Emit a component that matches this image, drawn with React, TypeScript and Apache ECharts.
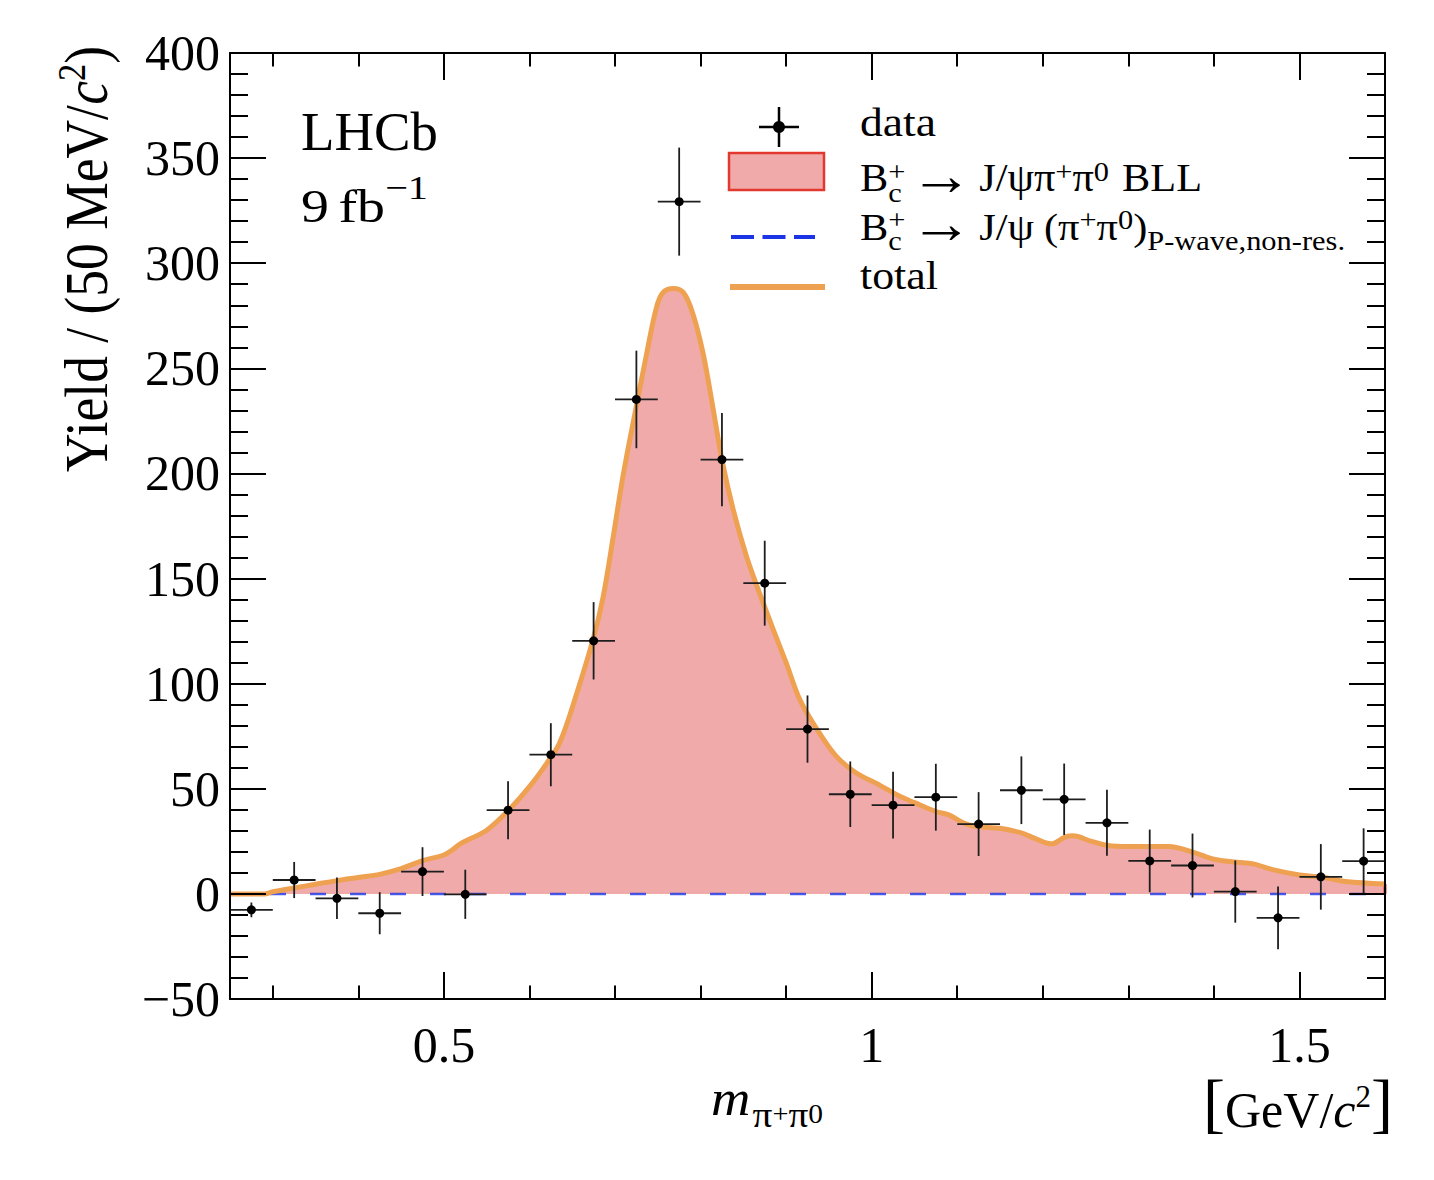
import React, { useEffect, useRef } from "react";
import * as echarts from "echarts";

// ---------- data ----------
const binCenters = [
  0.275, 0.325, 0.375, 0.425, 0.475, 0.525, 0.575, 0.625, 0.675, 0.725, 0.775, 0.825, 0.875, 0.925,
  0.975, 1.025, 1.075, 1.125, 1.175, 1.225, 1.275, 1.325, 1.375, 1.425, 1.475, 1.525, 1.575,
];
const yields = [
  -7.6, 6.6, -2.1, -9.2, 10.6, -0.2, 39.8, 66.2, 120.4, 235.2, 329.3, 206.6, 147.8, 78.4,
  47.4, 42.2, 46.0, 33.2, 49.3, 45.0, 33.8, 15.7, 13.5, 1.1, -11.4, 8.1, 15.6,
];
const yieldErrors = [
  3.5, 8.6, 9.9, 10.0, 11.6, 11.7, 13.8, 15.0, 18.4, 23.2, 25.7, 22.2, 20.2, 16.0,
  15.6, 15.9, 15.9, 15.2, 16.1, 17.0, 15.7, 14.9, 15.2, 14.8, 14.9, 15.6, 15.6,
];
const binHalfWidth = 0.025;

// total fit (= BLL component) curve
const curveX = [
  0.25, 0.27, 0.29, 0.3, 0.325, 0.35, 0.375, 0.4, 0.425, 0.45, 0.475, 0.5, 0.51, 0.52, 0.55,
  0.575, 0.6, 0.62, 0.6355, 0.655, 0.675, 0.686, 0.698, 0.7095, 0.724, 0.737, 0.7485, 0.756,
  0.768, 0.78, 0.791, 0.803, 0.815, 0.825, 0.838, 0.8536, 0.869, 0.885, 0.9, 0.916, 0.935,
  0.9587, 0.982, 1.005, 1.033, 1.05, 1.075, 1.09, 1.11, 1.125, 1.15, 1.175, 1.19, 1.21, 1.226,
  1.235, 1.257, 1.276, 1.3, 1.325, 1.347, 1.377, 1.4, 1.427, 1.446, 1.47, 1.5, 1.527, 1.554, 1.6,
];
const curveY = [
  0, 0, 0, 1.0, 2.8, 4.6, 6.3, 7.8, 9.3, 12.0, 15.8, 18.5, 21.0, 24.0, 30.3,
  39.5, 51, 62, 72, 95, 122, 141, 170, 199, 230, 257, 279, 286,
  288, 286, 276, 257, 230, 206.5, 183, 160.6, 143, 125.7, 110, 92.4, 79,
  65.4, 57.5, 52.7, 46.4, 43.4, 39.2, 37.6, 33.3, 32, 31.2, 29, 26.5, 23.8, 27,
  27.6, 25, 23, 22.5, 22.5, 22.5, 19.6, 16.5, 15.1, 14.3, 11.4, 9, 7.9, 5.9, 4.7,
];
const pWaveX = [0.25, 1.6];
const pWaveY = [0, 0];

const xRange = [0.25, 1.6];
const yRange = [-50, 400];
const yInterval = 50;
const xMajorTicks = [0.5, 1, 1.5];
const xMinorTicks = [0.3, 0.4, 0.6, 0.7, 0.8, 0.9, 1.1, 1.2, 1.3, 1.4];

// ---------- style ----------
const SERIF = '"Liberation Serif", "DejaVu Serif", serif';
const FILL = "#f1aaaa";
const ORANGE = "#efa152";
const BLUE = "#1b35e6";
const RED = "#e2382f";

let measureCtx: CanvasRenderingContext2D | null = null;
function tw(text: string, size: number, italic?: boolean): number {
  if (!measureCtx) {
    const c = document.createElement("canvas");
    measureCtx = c.getContext("2d");
  }
  if (!measureCtx) return text.length * size * 0.5;
  measureCtx.font = `${italic ? "italic " : ""}${size}px ${SERIF}`;
  return measureCtx.measureText(text).width;
}

type Piece = {
  t?: string;
  s?: number;
  it?: boolean;
  dy?: number;
  gap?: number;
  sub?: { t: string; s: number; dy: number; it?: boolean };
};

function textEl(t: string, s: number, it: boolean | undefined, x: number, dy: number) {
  return {
    type: "text",
    x,
    y: dy - 0.3375 * s,
    silent: true,
    style: {
      text: t,
      fontSize: s,
      fontFamily: SERIF,
      fontStyle: it ? "italic" : "normal",
      fill: "#000",
      textAlign: "left",
      textVerticalAlign: "middle",
    },
  };
}

function runs(pieces: Piece[], x: number, baseline: number, target?: number, rotation?: number) {
  let cx = 0;
  const children: any[] = [];
  for (const p of pieces) {
    if (p.gap) {
      cx += p.gap;
      continue;
    }
    const s = p.s || 40;
    const w = tw(p.t || "", s, p.it);
    children.push(textEl(p.t || "", s, p.it, cx, p.dy || 0));
    let adv = w;
    if (p.sub) {
      const w2 = tw(p.sub.t, p.sub.s, p.sub.it);
      children.push(textEl(p.sub.t, p.sub.s, p.sub.it, cx, p.sub.dy));
      adv = Math.max(w, w2);
    }
    cx += adv;
  }
  const sx = target ? target / cx : 1;
  return { type: "group", x, y: baseline, scaleX: sx, rotation: rotation || 0, silent: true, children };
}

function buildOption() {
  const curve = curveX.map((x, i) => [x, curveY[i]]);
  const pwave = pWaveX.map((x, i) => [x, pWaveY[i]]);
  const points = binCenters.map((x, i) => [x, yields[i], yieldErrors[i]]);
  const lastX = curveX[curveX.length - 1];
  const lastY = curveY[curveY.length - 1];

  const axisLineStyle = { color: "#000", width: 2 };
  const baseX = {
    type: "value",
    min: xRange[0],
    max: xRange[1],
    z: 10,
    splitLine: { show: false },
  };
  const baseY = {
    type: "value",
    min: yRange[0],
    max: yRange[1],
    interval: yInterval,
    z: 10,
    splitLine: { show: false },
    minorSplitLine: { show: false },
    axisLine: { show: true, onZero: false, lineStyle: axisLineStyle },
    axisTick: { show: true, inside: true, length: 36, lineStyle: axisLineStyle },
    minorTick: { show: true, splitNumber: 5, length: 18, lineStyle: axisLineStyle },
  };

  const sup = -11;
  const legendSize = 39;
  const smallSize = 28;
  const arrow = { t: "\u2192", s: 58, dy: 3 };

  const graphics: any[] = [
    // legend symbols
    { type: "line", silent: true, shape: { x1: 779, y1: 107, x2: 779, y2: 147 }, style: { stroke: "#000", lineWidth: 2.5 } },
    { type: "line", silent: true, shape: { x1: 759, y1: 127, x2: 799, y2: 127 }, style: { stroke: "#000", lineWidth: 2.5 } },
    { type: "circle", silent: true, shape: { cx: 779, cy: 127, r: 6 }, style: { fill: "#000" } },
    { type: "rect", silent: true, shape: { x: 729, y: 153, width: 95, height: 37 }, style: { fill: FILL, stroke: RED, lineWidth: 2.5 } },
    { type: "line", silent: true, shape: { x1: 731, y1: 237, x2: 815, y2: 237 }, style: { stroke: BLUE, lineWidth: 4, lineDash: [23, 8.5] } },
    { type: "line", silent: true, shape: { x1: 730, y1: 287, x2: 825, y2: 287 }, style: { stroke: ORANGE, lineWidth: 6 } },
    // legend texts
    runs([{ t: "data", s: legendSize }], 860, 135.5, 76),
    runs(
      [
        { t: "B", s: legendSize },
        { t: "+", s: smallSize, dy: sup, sub: { t: "c", s: smallSize, dy: 10 } },
        { gap: 4 },
        arrow,
        { gap: 6 },
        { t: "J/\u03c8\u03c0", s: legendSize },
        { t: "+", s: smallSize, dy: sup },
        { t: "\u03c0", s: legendSize },
        { t: "0", s: smallSize, dy: sup },
        { gap: 12 },
        { t: "BLL", s: legendSize },
      ],
      860,
      191.5,
      342
    ),
    runs(
      [
        { t: "B", s: legendSize },
        { t: "+", s: smallSize, dy: sup, sub: { t: "c", s: smallSize, dy: 10 } },
        { gap: 4 },
        arrow,
        { gap: 6 },
        { t: "J/\u03c8", s: legendSize },
        { gap: 9 },
        { t: "(\u03c0", s: legendSize },
        { t: "+", s: smallSize, dy: sup },
        { t: "\u03c0", s: legendSize },
        { t: "0", s: smallSize, dy: sup },
        { t: ")", s: legendSize },
        { t: "P-wave,non-res.", s: smallSize, dy: 10 },
      ],
      860,
      240,
      485
    ),
    runs([{ t: "total", s: legendSize }], 860, 289, 78),
    // LHCb label
    runs([{ t: "LHCb", s: 55 }], 301, 150, 137),
    runs(
      [
        { t: "9", s: 47 },
        { gap: 8 },
        { t: "fb", s: 47 },
        { t: "\u22121", s: 34, dy: -22 },
      ],
      301,
      221.5,
      127
    ),
    // y-axis title (rotated)
    runs(
      [
        { t: "Yield / (50 MeV/", s: 62 },
        { t: "c", s: 62, it: true },
        { t: "2", s: 40, dy: -22 },
        { t: ")", s: 62 },
      ],
      107,
      472,
      426,
      Math.PI / 2
    ),
    // x-axis title
    runs(
      [
        { t: "m", s: 50, it: true },
        { gap: 2 },
        { t: "\u03c0", s: 36, dy: 12 },
        { t: "+", s: 26, dy: 7 },
        { t: "\u03c0", s: 36, dy: 12 },
        { t: "0", s: 27, dy: 8 },
      ],
      711,
      1115,
      112
    ),
    // x-axis unit
    runs(
      [
        { t: "[", s: 66, dy: -2 },
        { t: "GeV/", s: 50 },
        { t: "c", s: 50, it: true },
        { t: "2", s: 31, dy: -20 },
        { t: "]", s: 66, dy: -2 },
      ],
      1203,
      1127,
      190
    ),
  ];

  return {
    animation: false,
    backgroundColor: "#ffffff",
    grid: { left: 230, top: 53, width: 1155, height: 946, containLabel: false },
    xAxis: [
      {
        ...baseX,
        position: "bottom",
        axisLine: { show: true, onZero: false, lineStyle: axisLineStyle },
        axisTick: { show: true, inside: true, length: 27, customValues: xMajorTicks, lineStyle: axisLineStyle },
        axisLabel: {
          show: true,
          customValues: xMajorTicks,
          formatter: (v: number) => String(v),
          fontSize: 50,
          fontFamily: SERIF,
          color: "#000",
          margin: 21,
        },
      },
      {
        ...baseX,
        position: "bottom",
        axisLine: { show: false, onZero: false },
        axisTick: { show: true, inside: true, length: 13.5, customValues: xMinorTicks, lineStyle: axisLineStyle },
        axisLabel: { show: false },
      },
      {
        ...baseX,
        position: "top",
        axisLine: { show: true, onZero: false, lineStyle: axisLineStyle },
        axisTick: { show: true, inside: true, length: 27, customValues: xMajorTicks, lineStyle: axisLineStyle },
        axisLabel: { show: false },
      },
      {
        ...baseX,
        position: "top",
        axisLine: { show: false, onZero: false },
        axisTick: { show: true, inside: true, length: 13.5, customValues: xMinorTicks, lineStyle: axisLineStyle },
        axisLabel: { show: false },
      },
    ],
    yAxis: [
      {
        ...baseY,
        position: "left",
        axisLabel: {
          show: true,
          fontSize: 50,
          fontFamily: SERIF,
          color: "#000",
          margin: 10,
          formatter: (v: number) => (v < 0 ? "\u2212" + Math.abs(v) : String(v)),
        },
      },
      {
        ...baseY,
        position: "right",
        axisLabel: { show: false },
      },
    ],
    series: [
      {
        name: "BLL",
        type: "line",
        xAxisIndex: 0,
        yAxisIndex: 0,
        data: curve,
        showSymbol: false,
        smooth: 0.35,
        lineStyle: { width: 0, opacity: 0 },
        areaStyle: { color: FILL, opacity: 1 },
        z: 1,
        silent: true,
      },
      {
        name: "BLL edge",
        type: "line",
        data: [
          [lastX, 0],
          [lastX, lastY],
        ],
        showSymbol: false,
        lineStyle: { color: RED, width: 3 },
        z: 2,
        silent: true,
      },
      {
        name: "P-wave",
        type: "line",
        data: pwave,
        showSymbol: false,
        lineStyle: { color: BLUE, width: 2.5, type: [16, 24], opacity: 0.8 },
        z: 2,
        silent: true,
      },
      {
        name: "total",
        type: "line",
        data: curve,
        showSymbol: false,
        smooth: 0.35,
        lineStyle: { color: ORANGE, width: 5 },
        z: 3,
        silent: true,
      },
      {
        name: "data",
        type: "custom",
        xAxisIndex: 0,
        yAxisIndex: 0,
        data: points,
        encode: { x: 0, y: 1 },
        z: 5,
        silent: true,
        renderItem: (params: any, api: any) => {
          const x = api.value(0);
          const y = api.value(1);
          const e = api.value(2);
          const c = api.coord([x, y]);
          const l = api.coord([x - binHalfWidth, y]);
          const r = api.coord([x + binHalfWidth, y]);
          const t = api.coord([x, y + e]);
          const b = api.coord([x, y - e]);
          const st = { stroke: "#1e1e1e", lineWidth: 1.8 };
          return {
            type: "group",
            children: [
              { type: "line", shape: { x1: l[0], y1: l[1], x2: r[0], y2: r[1] }, style: st },
              { type: "line", shape: { x1: t[0], y1: t[1], x2: b[0], y2: b[1] }, style: st },
              { type: "circle", shape: { cx: c[0], cy: c[1], r: 4.5 }, style: { fill: "#000" } },
            ],
          };
        },
      },
    ],
    graphic: { elements: graphics },
  };
}

export default function App() {
  const ref = useRef<HTMLDivElement | null>(null);
  useEffect(() => {
    if (!ref.current) return;
    const chart = echarts.init(ref.current, undefined, { renderer: "svg" });
    chart.setOption(buildOption() as any);
    return () => {
      chart.dispose();
    };
  }, []);
  return (
    <div
      ref={ref}
      style={{ position: "fixed", left: 0, top: 0, width: 1434, height: 1180, background: "#fff" }}
    />
  );
}
